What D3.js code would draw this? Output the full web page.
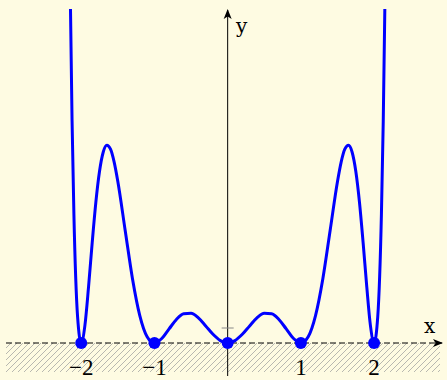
<!DOCTYPE html>
<html>
<head>
<meta charset="utf-8">
<script src="https://cdn.jsdelivr.net/npm/d3@7"></script>
<style>
  body { margin: 0; background: #fefbe2; }
  svg { display: block; }
</style>
</head>
<body>
<svg width="447" height="380"></svg>
<script>
var svg = d3.select("svg");
var width = +svg.attr("width");
var height = +svg.attr("height");

// curve samples
var xs = [-2.2, -2.15, -2.125, -2.1, -2.05, -2.0, -1.95, -1.9, -1.85, -1.8, -1.75, -1.7, -1.65, -1.6, -1.55, -1.5, -1.4, -1.3, -1.2, -1.1, -1.0,
          -0.9, -0.8, -0.7, -0.6, -0.5, -0.4, -0.3, -0.2, -0.1, 0,
          0.1, 0.2, 0.3, 0.4, 0.5, 0.6, 0.7, 0.8, 0.9,
          1.0, 1.1, 1.2, 1.3, 1.4, 1.5, 1.55, 1.6, 1.65, 1.7, 1.75, 1.8, 1.85, 1.9, 1.95, 2.0, 2.05, 2.1, 2.125, 2.15, 2.2];
var ys = [50.4, 23.5, 14.8, 8.6, 1.77, 0, 1.16, 3.74, 6.69, 9.39, 11.45, 12.72, 13.18, 12.92, 12.06, 10.77, 7.52, 4.29, 1.83, 0.42, 0,
          0.30, 0.94, 1.57, 1.95, 1.98, 1.67, 1.14, 0.58, 0.16, 0,
          0.16, 0.58, 1.14, 1.67, 1.98, 1.95, 1.57, 0.94, 0.30,
          0, 0.42, 1.83, 4.29, 7.52, 10.77, 12.06, 12.92, 13.18, 12.72, 11.45, 9.39, 6.69, 3.74, 1.16, 0, 1.77, 8.6, 14.8, 23.5, 50.4];
var roots = [-2, -1, 0, 1, 2];
var tickVals = [-2, -1, 1, 2];
var tickText = ["\u22122", "\u22121", "1", "2"];

var x = d3.scaleLinear().domain([-3.0, 2.9]).range([8, 440]);
var y = d3.scaleLinear().domain([0, 22.27]).range([343, 9]);

var defs = svg.append("defs");
var pat = defs.append("pattern")
    .attr("id", "hatch")
    .attr("patternUnits", "userSpaceOnUse")
    .attr("width", 6).attr("height", 6);
pat.append("path")
    .attr("d", "M-1,7 L7,-1 M-4,4 L4,-4 M2,10 L10,2")
    .attr("stroke", "#b8b8b0").attr("stroke-width", 1);
defs.append("clipPath").attr("id", "clip")
    .append("rect").attr("x", 0).attr("y", y.range()[1]).attr("width", width).attr("height", 400);
defs.append("marker")
    .attr("id", "arrow")
    .attr("viewBox", "0 -5 10 10")
    .attr("refX", 9).attr("refY", 0)
    .attr("markerWidth", 10).attr("markerHeight", 10)
    .attr("markerUnits", "userSpaceOnUse")
    .attr("orient", "auto")
    .append("path").attr("d", "M0,-4L10,0L0,4L2.5,0Z").attr("fill", "#000");

svg.append("rect").attr("width", width).attr("height", height).attr("fill", "#fefbe2");

// hatched half plane under the x axis
svg.append("rect")
    .attr("x", 6).attr("y", y(0))
    .attr("width", 434).attr("height", 29)
    .attr("fill", "url(#hatch)");

// x axis (dashed)
svg.append("line")
    .attr("x1", 6).attr("x2", 442)
    .attr("y1", y(0)).attr("y2", y(0))
    .attr("stroke", "#000").attr("stroke-width", 1)
    .attr("stroke-dasharray", "6,3")
    .attr("marker-end", "url(#arrow)");

// y axis
svg.append("line")
    .attr("x1", x(0)).attr("x2", x(0))
    .attr("y1", 376).attr("y2", 10)
    .attr("stroke", "#000").attr("stroke-width", 1)
    .attr("marker-end", "url(#arrow)");

// unit tick on y
svg.append("line")
    .attr("x1", x(0) - 6).attr("x2", x(0) + 6)
    .attr("y1", y(1)).attr("y2", y(1))
    .attr("stroke", "#888").attr("stroke-width", 1);

svg.append("text").attr("x", 236).attr("y", 33)
    .attr("font-family", "DejaVu Serif").attr("font-size", 20)
    .text("y");
svg.append("text").attr("x", 424).attr("y", 333)
    .attr("font-family", "DejaVu Serif").attr("font-size", 20)
    .text("x");

svg.append("g").selectAll("text")
    .data(tickVals)
    .enter().append("text")
    .attr("x", function (d) { return x(d); })
    .attr("y", 375)
    .attr("text-anchor", "middle")
    .attr("font-family", "Liberation Serif")
    .attr("font-size", 23)
    .text(function (d, i) { return tickText[i]; });

var pts = xs.map(function (v, i) { return [v, ys[i]]; });
var line = d3.line()
    .x(function (d) { return x(d[0]); })
    .y(function (d) { return y(d[1]); })
    .curve(d3.curveMonotoneX);

svg.append("path")
    .datum(pts)
    .attr("clip-path", "url(#clip)")
    .attr("d", line)
    .attr("fill", "none")
    .attr("stroke", "#0000ff")
    .attr("stroke-width", 3);

svg.append("g").selectAll("circle")
    .data(roots)
    .enter().append("circle")
    .attr("cx", function (d) { return x(d); })
    .attr("cy", y(0))
    .attr("r", 6)
    .attr("fill", "#0000ff");
</script>
</body>
</html>
